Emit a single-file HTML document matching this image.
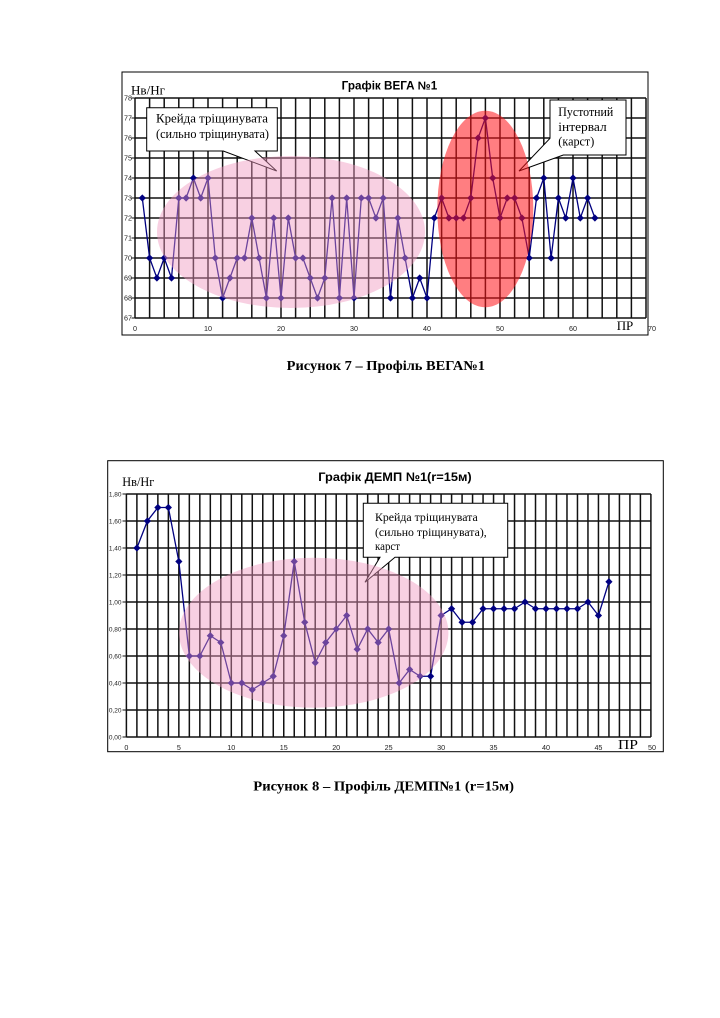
<!DOCTYPE html>
<html>
<head>
<meta charset="utf-8">
<style>
html,body{margin:0;padding:0;background:#fff;}
svg{display:block;}
.tk{font-family:"Liberation Sans",Arial,sans-serif;font-size:7.2px;fill:#222;}
.tk2{font-family:"Liberation Sans",Arial,sans-serif;font-size:6.5px;fill:#222;}
.sf{font-family:"Liberation Serif","DejaVu Serif",serif;fill:#000;}
.tt{font-family:"Liberation Sans",Arial,sans-serif;font-weight:bold;fill:#000;}
</style>
</head>
<body>
<svg width="720" height="1018" viewBox="0 0 720 1018" xmlns="http://www.w3.org/2000/svg">
<defs>
<marker id="dm" markerUnits="userSpaceOnUse" markerWidth="8" markerHeight="8" refX="4" refY="4" viewBox="0 0 8 8">
<path d="M4 0.4L7.6 4L4 7.6L0.4 4Z" fill="#000080"/>
</marker>
</defs>
<rect width="720" height="1018" fill="#fff"/>

<!-- ============ CHART 1 ============ -->
<rect x="122" y="72" width="526" height="263" fill="#fff" stroke="#000" stroke-width="1"/>
<text class="tt" x="341.7" y="89.7" font-size="11.5" textLength="95.6" lengthAdjust="spacingAndGlyphs">Графік ВЕГА №1</text>
<text class="sf" x="131" y="94.7" font-size="13" textLength="34" lengthAdjust="spacingAndGlyphs">Нв/Нг</text>

<path fill="none" stroke="#111" stroke-width="1.5" d="M135 98v220m14.6-220v220m14.6-220v220m14.6-220v220m14.6-220v220m14.6-220v220m14.6-220v220m14.6-220v220m14.6-220v220m14.6-220v220m14.6-220v220m14.6-220v220m14.6-220v220m14.6-220v220m14.6-220v220m14.6-220v220m14.6-220v220m14.6-220v220m14.6-220v220m14.6-220v220m14.6-220v220m14.6-220v220m14.6-220v220m14.6-220v220m14.6-220v220m14.6-220v220m14.6-220v220m14.6-220v220m14.6-220v220m14.6-220v220m14.6-220v220m14.6-220v220m14.6-220v220m14.6-220v220m14.6-220v220m14.6-220v220"/>
<path fill="none" stroke="#111" stroke-width="1.5" d="M135 98h511m-511 20h511m-511 20h511m-511 20h511m-511 20h511m-511 20h511m-511 20h511m-511 20h511m-511 20h511m-511 20h511m-511 20h511m-511 20h511"/>
<path fill="none" stroke="#111" stroke-width="1" d="M131.5 98h3.5m-3.5 20h3.5m-3.5 20h3.5m-3.5 20h3.5m-3.5 20h3.5m-3.5 20h3.5m-3.5 20h3.5m-3.5 20h3.5m-3.5 20h3.5m-3.5 20h3.5m-3.5 20h3.5m-3.5 20h3.5"/>

<g class="tk" text-anchor="end">
<text x="132" y="100.5">78</text><text x="132" y="120.5">77</text><text x="132" y="140.5">76</text><text x="132" y="160.5">75</text>
<text x="132" y="180.5">74</text><text x="132" y="200.5">73</text><text x="132" y="220.5">72</text><text x="132" y="240.5">71</text>
<text x="132" y="260.5">70</text><text x="132" y="280.5">69</text><text x="132" y="300.5">68</text><text x="132" y="320.5">67</text>
</g>
<g class="tk" text-anchor="middle">
<text x="135" y="331">0</text><text x="208" y="331">10</text><text x="281" y="331">20</text><text x="354" y="331">30</text>
<text x="427" y="331">40</text><text x="500" y="331">50</text><text x="573" y="331">60</text><text x="652" y="331">70</text>
</g>
<text class="sf" x="616.7" y="330" font-size="13" textLength="16.6" lengthAdjust="spacingAndGlyphs">ПР</text>

<polyline fill="none" stroke="#000080" stroke-width="1.3" marker-start="url(#dm)" marker-mid="url(#dm)" marker-end="url(#dm)" points="142.3,198 149.6,258 156.9,278 164.2,258 171.5,278 178.8,198 186.1,198 193.4,178 200.7,198 208,178 215.3,258 222.6,298 229.9,278 237.2,258 244.5,258 251.8,218 259.1,258 266.4,298 273.7,218 281,298 288.3,218 295.6,258 302.9,258 310.2,278 317.5,298 324.8,278 332.1,198 339.4,298 346.7,198 354,298 361.3,198 368.6,198 375.9,218 383.2,198 390.5,298 397.8,218 405.1,258 412.4,298 419.7,278 427,298 434.3,218 441.6,198 448.9,218 456.2,218 463.5,218 470.8,198 478.1,138 485.4,118 492.7,178 500,218 507.3,198 514.6,198 521.9,218 529.2,258 536.5,198 543.8,178 551.1,258 558.4,198 565.7,218 573,178 580.3,218 587.6,198 594.9,218"/>

<polygon points="146.7,107.7 277.3,107.7 277.3,151 255,151 276.7,171 223.3,151 146.7,151" fill="#fff" stroke="#000" stroke-width="1"/>
<text class="sf" x="156" y="122.5" font-size="13" textLength="112" lengthAdjust="spacingAndGlyphs">Крейда тріщинувата</text>
<text class="sf" x="156" y="138" font-size="13" textLength="113" lengthAdjust="spacingAndGlyphs">(сильно тріщинувата)</text>

<polygon points="550,100 626,100 626,155 563.3,155 519,171 550,138.3" fill="#fff" stroke="#000" stroke-width="1"/>
<text class="sf" x="558.3" y="116" font-size="13" textLength="55" lengthAdjust="spacingAndGlyphs">Пустотний</text>
<text class="sf" x="558.3" y="131" font-size="13" textLength="48.4" lengthAdjust="spacingAndGlyphs">інтервал</text>
<text class="sf" x="558.3" y="145.5" font-size="13" textLength="36" lengthAdjust="spacingAndGlyphs">(карст)</text>

<ellipse cx="291" cy="232" rx="134" ry="76" fill="rgb(240,150,190)" fill-opacity="0.45"/>
<ellipse cx="485.3" cy="209" rx="48" ry="98.3" fill="rgb(255,20,25)" fill-opacity="0.55"/>

<text class="sf" x="286.7" y="370" font-size="13.5" font-weight="bold" textLength="198.3" lengthAdjust="spacingAndGlyphs">Рисунок 7 – Профіль ВЕГА№1</text>

<!-- ============ CHART 2 ============ -->
<rect x="107.7" y="460.7" width="555.6" height="291" fill="#fff" stroke="#000" stroke-width="1"/>
<text class="tt" x="318.3" y="481" font-size="12.3" textLength="153.4" lengthAdjust="spacingAndGlyphs">Графік ДЕМП №1(r=15м)</text>
<text class="sf" x="122.3" y="486" font-size="12.5" textLength="32" lengthAdjust="spacingAndGlyphs">Нв/Нг</text>

<path fill="none" stroke="#111" stroke-width="1.5" d="M126.4 494v243m10.49-243v243m10.49-243v243m10.49-243v243m10.49-243v243m10.49-243v243m10.49-243v243m10.49-243v243m10.49-243v243m10.49-243v243m10.49-243v243m10.49-243v243m10.49-243v243m10.49-243v243m10.49-243v243m10.49-243v243m10.49-243v243m10.49-243v243m10.49-243v243m10.49-243v243m10.49-243v243m10.49-243v243m10.49-243v243m10.49-243v243m10.49-243v243m10.49-243v243m10.49-243v243m10.49-243v243m10.49-243v243m10.49-243v243m10.49-243v243m10.49-243v243m10.49-243v243m10.49-243v243m10.49-243v243m10.49-243v243m10.49-243v243m10.49-243v243m10.49-243v243m10.49-243v243m10.49-243v243m10.49-243v243m10.49-243v243m10.49-243v243m10.49-243v243m10.49-243v243m10.49-243v243m10.49-243v243m10.49-243v243m10.49-243v243m10.49-243v243"/>
<path fill="none" stroke="#111" stroke-width="1.5" d="M126.4 494h524.5m-524.5 27h524.5m-524.5 27h524.5m-524.5 27h524.5m-524.5 27h524.5m-524.5 27h524.5m-524.5 27h524.5m-524.5 27h524.5m-524.5 27h524.5m-524.5 27h524.5"/>
<path fill="none" stroke="#111" stroke-width="1" d="M122.5 494h4m-4 27h4m-4 27h4m-4 27h4m-4 27h4m-4 27h4m-4 27h4m-4 27h4m-4 27h4m-4 27h4"/>

<g class="tk2" text-anchor="end">
<text x="121.5" y="496.5">1,80</text><text x="121.5" y="523.5">1,60</text><text x="121.5" y="550.5">1,40</text><text x="121.5" y="577.5">1,20</text>
<text x="121.5" y="604.5">1,00</text><text x="121.5" y="631.5">0,80</text><text x="121.5" y="658.5">0,60</text><text x="121.5" y="685.5">0,40</text>
<text x="121.5" y="712.5">0,20</text><text x="121.5" y="739.5">0,00</text>
</g>
<g class="tk" text-anchor="middle">
<text x="126.4" y="750">0</text><text x="178.85" y="750">5</text><text x="231.3" y="750">10</text><text x="283.75" y="750">15</text>
<text x="336.2" y="750">20</text><text x="388.65" y="750">25</text><text x="441.1" y="750">30</text><text x="493.55" y="750">35</text>
<text x="546" y="750">40</text><text x="598.45" y="750">45</text><text x="652" y="750">50</text>
</g>
<text class="sf" x="618" y="749" font-size="13.5" textLength="20" lengthAdjust="spacingAndGlyphs">ПР</text>

<polyline fill="none" stroke="#000080" stroke-width="1.3" marker-start="url(#dm)" marker-mid="url(#dm)" marker-end="url(#dm)" points="136.89,548 147.38,521 157.87,507.5 168.36,507.5 178.85,561.5 189.34,656 199.83,656 210.32,635.75 220.81,642.5 231.3,683 241.79,683 252.28,689.75 262.77,683 273.26,676.25 283.75,635.75 294.24,561.5 304.73,622.25 315.22,662.75 325.71,642.5 336.2,629 346.69,615.5 357.18,649.25 367.67,629 378.16,642.5 388.65,629 399.14,683 409.63,669.5 420.12,676.25 430.61,676.25 441.1,615.5 451.59,608.75 462.08,622.25 472.57,622.25 483.06,608.75 493.55,608.75 504.04,608.75 514.53,608.75 525.02,602 535.51,608.75 546,608.75 556.49,608.75 566.98,608.75 577.47,608.75 587.96,602 598.45,615.5 608.94,581.75"/>

<polygon points="363.3,503.3 507.7,503.3 507.7,557.3 395,557.3 365,582.3 380,557.3 363.3,557.3" fill="#fff" stroke="#000" stroke-width="1"/>
<text class="sf" x="375" y="521" font-size="12" textLength="102.7" lengthAdjust="spacingAndGlyphs">Крейда тріщинувата</text>
<text class="sf" x="375" y="536" font-size="12" textLength="111.7" lengthAdjust="spacingAndGlyphs">(сильно тріщинувата),</text>
<text class="sf" x="375" y="550" font-size="12" textLength="25" lengthAdjust="spacingAndGlyphs">карст</text>

<ellipse cx="313.7" cy="632.7" rx="134.7" ry="75" fill="rgb(240,150,190)" fill-opacity="0.45"/>

<text class="sf" x="253.3" y="790.7" font-size="13.5" font-weight="bold" textLength="260.7" lengthAdjust="spacingAndGlyphs">Рисунок 8 – Профіль ДЕМП№1 (r=15м)</text>
</svg>
</body>
</html>
